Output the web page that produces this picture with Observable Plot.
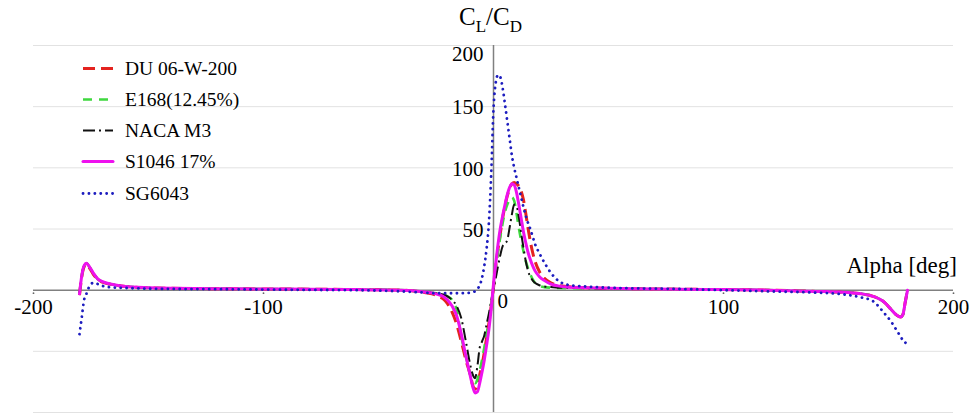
<!DOCTYPE html>
<html><head><meta charset="utf-8">
<script src="https://cdn.jsdelivr.net/npm/d3@7"></script>
<script src="https://cdn.jsdelivr.net/npm/@observablehq/plot@0.6"></script>
<style>html,body{margin:0;padding:0;background:#fff;} svg{display:block}</style>
</head><body><div id="chart"></div><script>
// ---- data ----
const alpha = [-180,-179,-178,-177,-176,-174,-172,-170,-165,-160,-150,-140,-120,-100,-80,-60,-40,-30,-25,-22,-20,-18,-16,-14,-12,-10,-9,-8,-7,-6,-5,-4,-3,-2,-1,0,1,2,3,4,5,6,7,8,9,10,11,12,13,14,15,16,17,18,20,22,25,28,32,40,50,60,80,100,120,140,150,160,165,170,173,175,177,178,179,180];

const du06w200 = [-4,11,19,21,19,13,8.5,6.5,4.3,3,2,1.5,1.2,1,0.8,0.5,0,-2,-4,-7,-11,-18,-28,-42,-57,-70,-78,-81,-77,-69,-61,-51,-39,-27,-13,2,20,34,47,59,69,77,83,87,88,87,85,81,74,63,51,40,31,24,15,10,6,4,3,2,1.5,1.2,0.8,0.5,0,-1,-1.5,-3,-5,-10,-16,-20,-22,-20,-10,0];

const e168 = [-3,12,20,22,20,14,9,7,4.5,3,2,1.5,1.2,1,0.8,0.5,0,-1.5,-2.5,-3.5,-5,-8,-16,-38,-54,-70,-74,-76,-73,-66,-57,-47,-36,-24,-11,3,18,32,44,55,64,70,74,76,73,63,51,41,32,24,18,13,9,6,3.5,2.5,2,1.8,1.6,1.5,1.4,1.2,0.8,0.5,0,-1,-1.5,-3,-5,-10,-16,-20,-22,-20,-10,0];

const nacaM3 = [-3,12,20,22,20,14,9,7,4.5,3,2,1.5,1.2,1,0.8,0.5,0,-1.5,-2.5,-3.5,-5,-8,-13,-23,-42,-62,-69,-72,-62,-47,-42,-37,-28,-19,-9,1,10,20,29,36,38,41,51,62,70,69,60,47,35,24,16,11,8,6,4,3,2.5,2,1.8,1.5,1.4,1.2,0.8,0.5,0,-1,-1.5,-3,-5,-10,-16,-20,-22,-20,-10,0];

const s1046 = [-3,12,20,22,20,14,9,7,4.5,3,2,1.5,1.2,1,0.8,0.5,0,-1.5,-3,-5,-8,-13,-21,-36,-54,-71,-79,-84,-83,-76,-67,-57,-45,-32,-15,5,22,38,51,61,70,78,84,87,86,80,70,59,48,39,31,25,20,16,11,8,5,3.5,2.5,2,1.5,1.2,0.8,0.5,0,-1,-1.5,-3,-5,-10,-16,-20,-22,-20,-10,0];

const sg6043 = [-36,-22,-8,-3,2,6,5,3.5,2.2,1.8,1.2,1,0.8,0.5,0.2,0,-1,-2,-2.5,-2.5,-2.5,-2.5,-2.5,-2.5,-2.3,-2,-1.5,-1,1,4,10,20,34,55,95,148,170,176,174,165,152,138,124,110,100,92,84,76,68,61,55,50,44,38,30,23,14,8,4.5,3,2,1.5,1,0,-1,-2,-3,-6,-9,-19,-26,-32,-38,-41,-43,-40];

const seriesNames = ["DU 06-W-200", "E168(12.45%)", "NACA M3", "S1046 17%", "SG6043"];
const seriesValues = [du06w200, e168, nacaM3, s1046, sg6043];

const xTicks = [-200, -100, 100, 200];
const yTicks = [50, 100, 150, 200];
const gridY = [-100, -50, 50, 100, 150, 200];

// ---- styles ----
const FONT = "'Liberation Serif','Times New Roman',serif";
const styles = [
  {stroke: "#e4231f", width: 3, dash: "12,6", cap: "butt"},
  {stroke: "#3fd83f", width: 2.6, dash: "9,7", cap: "butt"},
  {stroke: "#111111", width: 2, dash: "12,4,2,4", cap: "butt"},
  {stroke: "#ee11ee", width: 3, dash: null, cap: "round"},
  {stroke: "#1d1dbf", width: 2.8, dash: "0.1,5.8", cap: "round"}
];

const tables = seriesValues.map(vals => alpha.map((a, j) => ({a, v: vals[j]})));

const lineMarks = tables.map((t, i) => Plot.line(t, {
  x: "a", y: "v",
  stroke: styles[i].stroke,
  strokeWidth: styles[i].width,
  strokeDasharray: styles[i].dash,
  strokeLinecap: styles[i].cap,
  strokeLinejoin: "round",
  curve: "monotone-x"
}));

const chart = Plot.plot({
  width: 974,
  height: 416,
  marginLeft: 33,
  marginRight: 21,
  marginTop: 45,
  marginBottom: 4,
  style: {background: "#fff", fontFamily: FONT, color: "#000", overflow: "visible"},
  x: {domain: [-200, 200], axis: null},
  y: {domain: [-100, 200], axis: null},
  marks: [
    Plot.ruleY(gridY, {x1: -200, x2: 200, stroke: "#e2e2e2", strokeWidth: 1}),
    Plot.ruleY([0], {x1: -200, x2: 200, stroke: "#808080", strokeWidth: 1.5}),
    Plot.ruleX([0], {y1: -100, y2: 200, stroke: "#808080", strokeWidth: 1.5}),
    Plot.dot(xTicks, {x: d => d, y: 0, r: 0.9, dy: 3, fill: "#666", stroke: null}),
    Plot.text(xTicks, {x: d => d, y: 0, text: d => String(d), dy: 17, fontSize: 21, fill: "#000", fontFamily: FONT}),
    Plot.text(["0"], {x: 0, y: 0, text: d => d, textAnchor: "start", dx: 4, dy: 11, fontSize: 21, fill: "#000", fontFamily: FONT}),
    Plot.text(yTicks.filter(d => d !== 200), {x: 0, y: d => d, text: d => String(d), textAnchor: "end", dx: -10, dy: 1, fontSize: 21, fill: "#000", fontFamily: FONT}),
    Plot.text(yTicks.filter(d => d === 200), {x: 0, y: d => d, text: d => String(d), textAnchor: "end", dx: -10, dy: 9, fontSize: 21, fill: "#000", fontFamily: FONT}),
    ...lineMarks
  ]
});

document.getElementById("chart").appendChild(chart);

// ---- titles & legend ----
const svg = d3.select(chart);
const title = svg.append("text")
  .attr("x", 459).attr("y", 25)
  .attr("text-anchor", "start")
  .attr("font-family", FONT).attr("font-size", 25).attr("fill", "#000");
title.append("tspan").text("C");
title.append("tspan").attr("font-size", 17).attr("dy", 7).text("L");
title.append("tspan").attr("dy", -7).text("/C");
title.append("tspan").attr("font-size", 17).attr("dy", 7).text("D");

svg.append("text")
  .attr("x", 957).attr("y", 273)
  .attr("text-anchor", "end")
  .attr("font-family", FONT).attr("font-size", 23).attr("fill", "#000")
  .text("Alpha [deg]");

const legendBase = [75, 106, 137, 168, 200];
const lg = svg.append("g").attr("text-anchor", "start");
seriesNames.forEach((name, i) => {
  const yb = legendBase[i];
  lg.append("line")
    .attr("x1", 83).attr("x2", 113)
    .attr("y1", yb - 6.5).attr("y2", yb - 6.5)
    .attr("stroke", styles[i].stroke)
    .attr("stroke-width", styles[i].width)
    .attr("stroke-dasharray", styles[i].dash)
    .attr("stroke-linecap", styles[i].cap);
  lg.append("text")
    .attr("x", 125).attr("y", yb)
    .attr("text-anchor", "start")
    .attr("font-family", FONT).attr("font-size", 19.5).attr("fill", "#000")
    .text(name);
});
</script></body></html>
